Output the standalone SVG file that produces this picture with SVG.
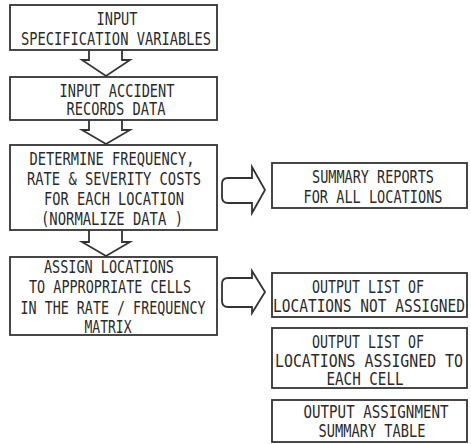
<svg xmlns="http://www.w3.org/2000/svg" width="471" height="444" viewBox="0 0 471 444">
<style>
.box{fill:#fff;stroke:#333;stroke-width:1.8}
.arr{fill:none;stroke:#333;stroke-width:1.8;stroke-linejoin:miter}
text{font-family:"DejaVu Sans Mono","Liberation Mono",monospace;font-size:17px;fill:#2a2a2a;text-anchor:middle}
</style>
<rect width="471" height="444" fill="#fff"/>
<g id="connectors">
<path class="arr" d="M89,50 V60 H82 L106,76 L130,60 H122 V50"/>
<path class="arr" d="M89,120 V130 H82 L106,144 L130,130 H122 V120"/>
<path class="arr" d="M89,230 V242 H82 L106,256 L130,242 H122 V230"/>
<path class="arr" d="M252,178 V167 L265,190 L252,213 V203 H228 Q222,203 222,197 V184 Q222,178 228,178 Z"/>
<path class="arr" d="M252,278 V271 L265,292 L252,313 V307 H228 Q222,307 222,301 V284 Q222,278 228,278 Z"/>
</g>
<g id="n1">
<rect class="box" x="10" y="5" width="207" height="45"/>
<text x="117" y="25" textLength="41" lengthAdjust="spacingAndGlyphs">INPUT</text>
<text x="116" y="45" textLength="190" lengthAdjust="spacingAndGlyphs">SPECIFICATION VARIABLES</text>
</g>
<g id="n2">
<rect class="box" x="10" y="77" width="207" height="43"/>
<text x="117" y="97" textLength="115" lengthAdjust="spacingAndGlyphs">INPUT ACCIDENT</text>
<text x="116" y="115" textLength="99" lengthAdjust="spacingAndGlyphs">RECORDS DATA</text>
</g>
<g id="n3">
<rect class="box" x="10" y="145" width="207" height="85"/>
<text x="112" y="165" textLength="165" lengthAdjust="spacingAndGlyphs">DETERMINE FREQUENCY,</text>
<text x="114" y="185" textLength="174" lengthAdjust="spacingAndGlyphs">RATE &amp; SEVERITY COSTS</text>
<text x="114" y="205" textLength="140" lengthAdjust="spacingAndGlyphs">FOR EACH LOCATION</text>
<text x="112" y="225" textLength="142" lengthAdjust="spacingAndGlyphs">(NORMALIZE DATA )</text>
</g>
<g id="n4">
<rect class="box" x="10" y="257" width="207" height="78"/>
<text x="109" y="273" textLength="130" lengthAdjust="spacingAndGlyphs">ASSIGN LOCATIONS</text>
<text x="110" y="293" textLength="162" lengthAdjust="spacingAndGlyphs">TO APPROPRIATE CELLS</text>
<text x="113" y="314" textLength="185" lengthAdjust="spacingAndGlyphs">IN THE RATE / FREQUENCY</text>
<text x="108" y="333" textLength="47" lengthAdjust="spacingAndGlyphs">MATRIX</text>
</g>
<g id="n5">
<rect class="box" x="272" y="163" width="195" height="45"/>
<text x="373" y="183" textLength="122" lengthAdjust="spacingAndGlyphs">SUMMARY REPORTS</text>
<text x="373" y="203" textLength="139" lengthAdjust="spacingAndGlyphs">FOR ALL LOCATIONS</text>
</g>
<g id="n6">
<rect class="box" x="272" y="273" width="195" height="44"/>
<text x="368" y="293" textLength="112" lengthAdjust="spacingAndGlyphs">OUTPUT LIST OF</text>
<text x="369" y="312" textLength="192" lengthAdjust="spacingAndGlyphs">LOCATIONS NOT ASSIGNED</text>
</g>
<g id="n7">
<rect class="box" x="272" y="328" width="195" height="60"/>
<text x="368" y="348" textLength="112" lengthAdjust="spacingAndGlyphs">OUTPUT LIST OF</text>
<text x="369" y="367" textLength="188" lengthAdjust="spacingAndGlyphs">LOCATIONS ASSIGNED TO</text>
<text x="365" y="385" textLength="77" lengthAdjust="spacingAndGlyphs">EACH CELL</text>
</g>
<g id="n8">
<rect class="box" x="272" y="400" width="195" height="42"/>
<text x="376" y="418" textLength="145" lengthAdjust="spacingAndGlyphs">OUTPUT ASSIGNMENT</text>
<text x="372" y="437" textLength="107" lengthAdjust="spacingAndGlyphs">SUMMARY TABLE</text>
</g>
</svg>
